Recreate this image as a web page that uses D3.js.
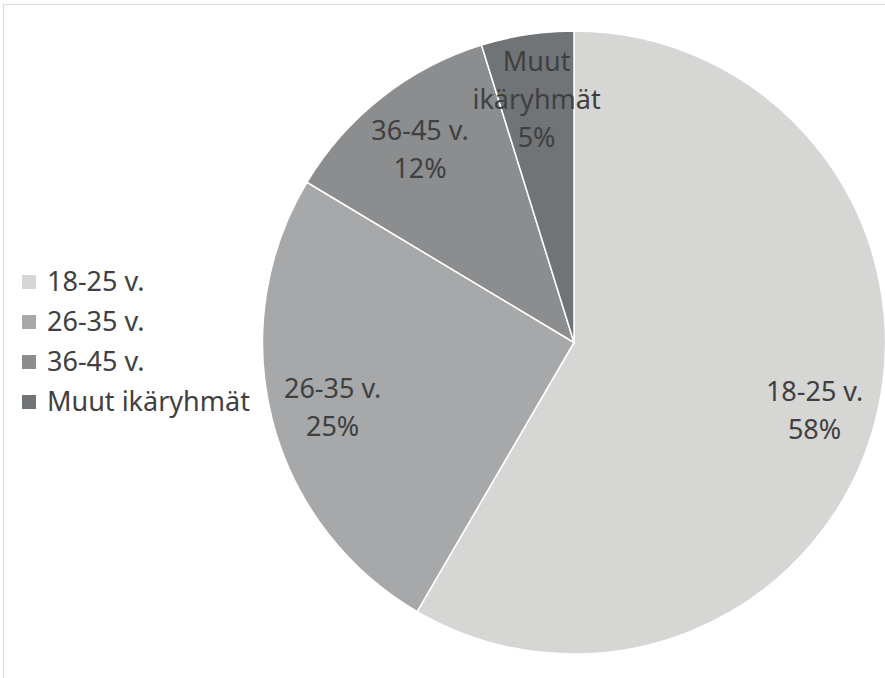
<!DOCTYPE html>
<html>
<head>
<meta charset="utf-8">
<script src="https://cdn.jsdelivr.net/npm/d3@7"></script>
<style>
  body { margin: 0; background: #fff; }
  svg { display: block; }
</style>
</head>
<body>
<div id="chart"></div>
<script>
const categories = ["18-25 v.", "26-35 v.", "36-45 v.", "Muut ikäryhmät"];
const sliceLabels = [["18-25 v."], ["26-35 v."], ["36-45 v."], ["Muut", "ikäryhmät"]];
const values = [58.4, 25.2, 11.6, 4.8];
const percentLabels = ["58%", "25%", "12%", "5%"];
const colors = ["#d6d6d5", "#a6a8a9", "#8b8d8f", "#717477"];

const width = 885, height = 678;
const cx = 574, cy = 342.5, radius = 311.5;
const font = "'Noto Sans', sans-serif";

const svg = d3.select("#chart").append("svg")
    .attr("width", width)
    .attr("height", height);

// chart area frame
svg.append("rect")
    .attr("x", 3.5).attr("y", 4.5)
    .attr("width", 900).attr("height", 700)
    .attr("fill", "#fff")
    .attr("stroke", "#d9d9d9");

const data = categories.map((c, i) => ({ cat: c, value: values[i], i }));

const pie = d3.pie().value(d => d.value).sort(null);
const arc = d3.arc().innerRadius(0).outerRadius(radius);
const labelArc = d3.arc().innerRadius(radius * 0.8).outerRadius(radius * 0.8);

const g = svg.append("g").attr("transform", `translate(${cx},${cy})`);
const arcs = pie(data);

g.selectAll("path")
    .data(arcs)
    .join("path")
    .attr("d", arc)
    .attr("fill", d => colors[d.data.i])
    .attr("stroke", "#fff")
    .attr("stroke-width", 1.5);

// slice labels
const lineH = 38;
g.selectAll("text.slice")
    .data(arcs)
    .join("text")
    .attr("class", "slice")
    .attr("text-anchor", "middle")
    .style("font-family", font)
    .style("font-size", "27px")
    .attr("fill", "#404040")
    .each(function (d) {
        const [x, y] = labelArc.centroid(d);
        const lines = sliceLabels[d.data.i].concat([percentLabels[d.data.i]]);
        const top = y - (lines.length - 1) * lineH / 2 + 3;
        d3.select(this).selectAll("tspan")
            .data(lines)
            .join("tspan")
            .attr("x", x)
            .attr("y", (l, k) => top + k * lineH)
            .attr("dy", "0.35em")
            .text(l => l);
    });

// legend
const legend = svg.append("g").attr("transform", "translate(22, 282)");
const row = legend.selectAll("g")
    .data(categories)
    .join("g")
    .attr("transform", (d, i) => `translate(0, ${i * 40})`);

row.append("rect")
    .attr("x", 0).attr("y", -7)
    .attr("width", 14).attr("height", 14)
    .attr("fill", (d, i) => colors[i]);

row.append("text")
    .attr("x", 25)
    .attr("dy", "0.35em")
    .style("font-family", font)
    .style("font-size", "27px")
    .attr("fill", "#404040")
    .text(d => d);
</script>
</body>
</html>
